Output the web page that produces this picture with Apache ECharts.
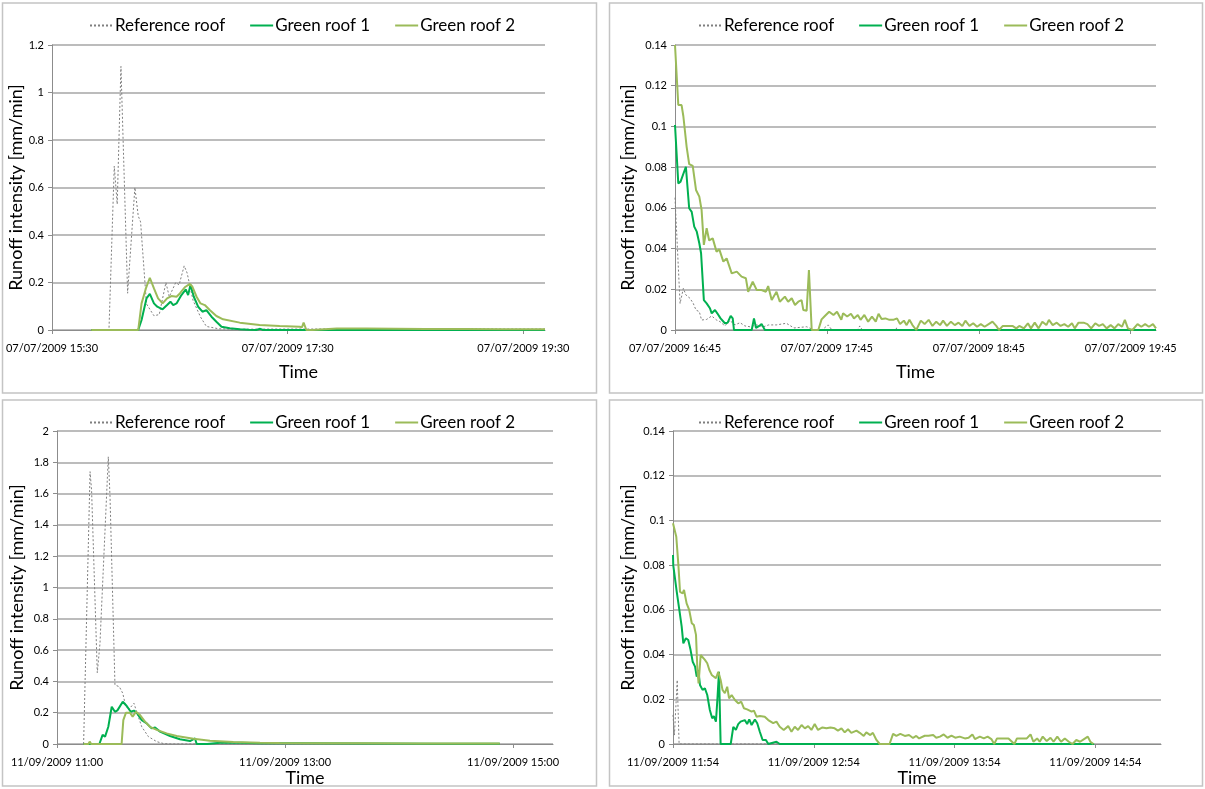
<!DOCTYPE html>
<html><head><meta charset="utf-8">
<script src="https://cdn.jsdelivr.net/npm/echarts@6/dist/echarts.min.js"></script>
<style>html,body{margin:0;padding:0;background:#fff}#c{width:1205px;height:789px}</style>
</head><body><div id="c"></div>
<script>
// ---------- DATA (x = minutes after first tick, y = runoff intensity mm/min) ----------
const seriesNames = ['Reference roof', 'Green roof 1', 'Green roof 2'];

// Panel 1: 07/07/2009 (first tick 15:30)
const p1XLabels = ['07/07/2009 15:30', '07/07/2009 17:30', '07/07/2009 19:30'];
const p1Ref = [[20,0],[29,0],[31.7,0.69],[33.2,0.53],[35.1,1.11],[38.5,0.155],[42.2,0.6],[43.9,0.48],[45.1,0.455],[48.1,0.11],[51.9,0.06],[54.6,0.065],[58,0.2],[59.7,0.14],[63,0.2],[64.7,0.19],[67.3,0.27],[68.8,0.24],[71.8,0.125],[75.6,0.055],[78.6,0.015],[85,0.005],[95,0.003],[110,0.004],[130,0.004],[150,0.005],[170,0.005],[190,0.004],[210,0.005],[230,0.004],[251,0.004]];
const p1G1 = [[20,0],[43.9,0],[45.6,0.042],[46.5,0.04],[48.1,0.133],[49.8,0.152],[51.9,0.112],[53.6,0.098],[56.3,0.087],[58.6,0.105],[60.3,0.119],[61.7,0.105],[63.4,0.112],[65.9,0.147],[68.1,0.171],[69.3,0.147],[70.5,0.19],[72.2,0.14],[74.4,0.098],[76.6,0.077],[78.6,0.084],[81.2,0.056],[83.7,0.035],[86.3,0.014],[90.5,0.007],[95.6,0.003],[100,0.001],[104,0],[106,0.005],[107.5,0],[251,0]];
const p1G2 = [[20,0],[43.9,0],[45.6,0.112],[47.8,0.175],[49.8,0.22],[51.9,0.175],[54,0.133],[56.3,0.112],[58.6,0.133],[60.8,0.143],[63.4,0.14],[65.1,0.154],[67.6,0.18],[70.2,0.194],[71.5,0.182],[73.6,0.14],[75.6,0.112],[77.8,0.105],[80.3,0.084],[83.7,0.059],[87.1,0.045],[95.6,0.031],[105.7,0.021],[115.9,0.017],[126.1,0.014],[127.3,0.012],[128.1,0.031],[129.5,0],[132.5,0],[133.5,0.007],[145,0.006],[160,0.006],[175,0.005],[190,0.004],[210,0.004],[230,0.003],[251,0.003]];

// Panel 2: 07/07/2009 (first tick 16:45)
const p2XLabels = ['07/07/2009 16:45', '07/07/2009 17:45', '07/07/2009 18:45', '07/07/2009 19:45'];
const p2Ref = [[0,0.065],[2,0.013],[3.3,0.0205],[4.3,0.0172],[5.9,0.0156],[7.2,0.0131],[8.3,0.0098],[9.6,0.009],[10.5,0.0049],[12.5,0.0052],[14.5,0.0069],[16.4,0.0049],[17.8,0.0041],[19.7,0.002],[21.7,0.0046],[23.7,0.0025],[25.7,0.0036],[27.6,0.002],[29.6,0.0016],[32.3,0.0025],[35,0.0016],[37,0.0025],[40,0.0025],[44,0.0033],[47,0.001],[52,0.0016],[55,0],[58,0],[60.5,0.0025],[62,0],[72,0],[73,0.002],[74,0],[87,0],[87.6,0.001],[88.5,0],[190,0]];
const p2G1 = [[0,0.1007],[1.3,0.072],[2.2,0.0729],[4.3,0.0802],[5.6,0.0598],[6.6,0.058],[7.6,0.0508],[8.6,0.0483],[9.6,0.0426],[10.3,0.0377],[11.4,0.0147],[12.5,0.0131],[13.8,0.0107],[14.5,0.0082],[15.8,0.0098],[16.7,0.0082],[18,0.0057],[19.7,0.0033],[20.8,0.0036],[22,0.0069],[22.8,0.0057],[23.3,0],[30.3,0],[31.2,0.0057],[32,0.001],[33.3,0.002],[34.2,0.003],[35.5,0],[190,0]];
const p2G2 = [[0,0.14],[1.3,0.1105],[2.6,0.1105],[3.3,0.105],[4.6,0.09],[5.6,0.0815],[7,0.0806],[8.3,0.0688],[9.6,0.0655],[10.5,0.059],[11.4,0.0418],[12.5,0.05],[13.5,0.044],[14.9,0.045],[16.4,0.0385],[17.5,0.0396],[19.1,0.0336],[20.4,0.0352],[22.4,0.0278],[24.4,0.0287],[26.3,0.0262],[28,0.0254],[28.9,0.0188],[30.7,0.0237],[32.3,0.0196],[34.2,0.0196],[35.9,0.0188],[36.8,0.0216],[38.2,0.0147],[40.1,0.0188],[41.4,0.0139],[43.4,0.0164],[44.7,0.0139],[46.1,0.0156],[47.4,0.0123],[48.7,0.0139],[50,0.0147],[50.7,0.0098],[52,0.0095],[52.9,0.0295],[54,0],[56.6,0],[57.9,0.0052],[59.2,0.0069],[60.9,0.009],[62.6,0.0074],[64,0.009],[65.7,0.005],[66.4,0.0082],[68,0.0066],[69.5,0.008],[70.7,0.0057],[72.2,0.0074],[73.3,0.005],[74.8,0.0074],[76.3,0.0041],[77.8,0.0066],[79.3,0.0041],[80.4,0.008],[81.6,0.0054],[83.1,0.0057],[84.7,0.005],[86.2,0.005],[87.7,0.0057],[88.9,0.0029],[90.4,0.0046],[91.5,0.0024],[92.6,0.005],[93.8,0.0024],[95.3,0],[97.1,0.0046],[98.6,0.0029],[100.2,0.005],[101.7,0.002],[103.2,0.0041],[104.7,0.0024],[105.9,0.0046],[107.4,0.002],[109,0.0041],[110.5,0.0024],[112,0.0036],[113.5,0.002],[114.7,0.0046],[116.3,0.002],[117.8,0.0033],[119.3,0.0016],[120.8,0.0029],[122.3,0.0016],[123.9,0.0029],[125.4,0.0041],[126.9,0.002],[128,0],[129.5,0.002],[133.3,0.002],[134.8,0.0008],[136,0.002],[137.8,0.0008],[139.4,0.0033],[140.6,0.0008],[142.1,0.0036],[143.6,0.0008],[145.1,0.0041],[146.7,0.0024],[147.7,0.005],[149.2,0.0024],[150.8,0.0036],[152.3,0.002],[153.8,0.0029],[155.3,0.0016],[156.8,0.0033],[157.9,0.0008],[159.4,0.0036],[161.4,0.0036],[162.9,0.0029],[164.4,0.0008],[166,0.0033],[167.5,0.002],[169,0.0029],[170.5,0.0008],[172.1,0.0024],[173.6,0.0008],[175.1,0.0029],[176.6,0.0016],[177.7,0.005],[178.9,0.0008],[180.7,0],[182.7,0.0029],[184.2,0.0016],[185.7,0.0029],[187.2,0.0016],[188.8,0.0029],[190,0.0008]];

// Panel 3: 11/09/2009 (first tick 11:00)
const p3XLabels = ['11/09/2009 11:00', '11/09/2009 13:00', '11/09/2009 15:00'];
const p3Ref = [[14,0],[14.2,0],[17.4,1.74],[18.2,1.62],[21.2,0.455],[22.6,0.64],[27,1.835],[27.9,1.58],[30.5,0.377],[32.8,0.366],[34.6,0.324],[35.8,0.26],[37.5,0.217],[40.5,0.26],[41.9,0.206],[44.6,0.11],[48.1,0.047],[52.5,0.015],[56,0.003],[60,0],[233,0]];
const p3G1 = [[14,0],[22.3,0],[24,0.058],[25.3,0.047],[27,0.11],[28.8,0.238],[30.5,0.206],[31.8,0.215],[34.6,0.27],[36.7,0.243],[38.8,0.206],[40.5,0.213],[41.9,0.2],[44.6,0.153],[47.2,0.132],[49.8,0.1],[51.6,0.105],[54.2,0.079],[59.5,0.051],[64.7,0.03],[70,0.019],[72.6,0.036],[73.5,0],[79,0],[85.8,0.008],[96,0.008],[107,0.005],[130,0.004],[160,0.003],[200,0.002],[233,0.002]];
const p3G2 = [[14,0],[16.5,0],[17.2,0.015],[18,0],[24,0],[25,0.01],[26,0],[29,0],[30,0.008],[31,0],[34,0],[34.9,0.153],[36.3,0.2],[38.4,0.2],[39.8,0.175],[41.6,0.206],[43.7,0.185],[46.3,0.143],[48.9,0.11],[52.5,0.09],[57.7,0.068],[63,0.051],[71.8,0.034],[80.5,0.021],[92.8,0.013],[106.8,0.008],[117,0.006],[140,0.005],[160,0.004],[190,0.003],[233,0.003]];

// Panel 4: 11/09/2009 (first tick 11:54)
const p4XLabels = ['11/09/2009 11:54', '11/09/2009 12:54', '11/09/2009 13:54', '11/09/2009 14:54'];
const p4Ref = [[0,0.013],[0.6,0.004],[1.8,0.0286],[2.6,0],[179.5,0]];
const p4G1 = [[0,0.0845],[0.1,0.08],[1.6,0.068],[2.7,0.06],[3.7,0.0525],[4.4,0.045],[5.5,0.0473],[6.5,0.0465],[7.5,0.042],[8.4,0.0368],[9.4,0.0346],[10.1,0.0301],[10.8,0.0331],[11.5,0.0264],[12.6,0.0242],[13.6,0.0249],[14.6,0.0219],[15.7,0.0152],[16.7,0.0115],[17.4,0.0125],[18.3,0.01],[18.9,0.0197],[19.6,0.0323],[20.3,0],[24.6,0],[25.7,0.0077],[26.8,0.0063],[27.8,0.0089],[28.8,0.01],[29.5,0.0093],[30.6,0.0107],[31.6,0.0089],[32.5,0.011],[33.5,0.0085],[34.9,0.011],[35.9,0.0093],[37,0.0055],[38.2,0.0018],[39.6,0.0018],[40.6,0],[44.1,0.001],[45.5,0],[179.5,0]];
const p4G2 = [[0,0.0987],[1.4,0.0927],[2.3,0.08],[3,0.068],[4.1,0.0674],[4.7,0.0689],[5.8,0.0629],[6.9,0.06],[8,0.054],[8.9,0.0532],[9.8,0.0488],[10.4,0.0331],[10.9,0.0271],[11.8,0.0398],[12.6,0.0403],[13.6,0.0376],[14.6,0.0361],[15.5,0.0331],[16.5,0.0309],[17.2,0.0312],[18.3,0.0294],[19.3,0.0323],[20.3,0.0286],[21.1,0.0242],[22.1,0.0227],[23.1,0.0256],[23.9,0.0204],[25,0.0219],[26.4,0.0197],[27.8,0.0182],[29.1,0.0189],[30.2,0.016],[31.6,0.0155],[33.5,0.0145],[34.5,0.0149],[35.6,0.0122],[37,0.0125],[39.1,0.0122],[40.6,0.0107],[42.7,0.0093],[44.1,0.01],[45.5,0.0077],[47.2,0.0063],[49.1,0.008],[50.5,0.0055],[51.9,0.0077],[53.3,0.0063],[54.8,0.0085],[56.2,0.007],[57.6,0.008],[59,0.0063],[60.4,0.0089],[61.8,0.0063],[63.7,0.0074],[65.4,0.007],[67.1,0.0074],[68.9,0.007],[70.3,0.006],[71.8,0.007],[73.2,0.0052],[74.6,0.0066],[76,0.005],[78.2,0.006],[79.6,0.005],[81.3,0.0036],[82.4,0.0052],[84.1,0.004],[85.2,0.005],[86.7,0.0018],[88.1,0],[92.3,0],[93.8,0.0045],[95.2,0.0036],[96.9,0.0045],[98.8,0.0036],[100.6,0.004],[102.3,0.0027],[103.7,0.0036],[104.9,0.0025],[107.3,0.0037],[108.9,0.0037],[110.9,0.004],[112.2,0.0028],[113.8,0.0033],[115.4,0.0043],[117,0.0028],[118.7,0.0037],[120.3,0.0028],[122.2,0.0033],[124.4,0.0025],[126,0.0028],[127.6,0.0043],[128.7,0.0022],[130.8,0.0033],[132.5,0.0025],[134.1,0.0033],[135.7,0.0022],[136.9,0],[138.1,0.0025],[143,0.0025],[145.5,0],[146.6,0.0025],[150.8,0.0025],[152.4,0.0043],[153.6,0.001],[155.2,0.0025],[156.3,0.001],[157.6,0.0033],[159.3,0.0013],[160.9,0.0028],[162.2,0.001],[163.8,0.0033],[165.4,0.001],[167,0.0025],[168.7,0.001],[170.3,0],[171.9,0.0018],[173.5,0.001],[175.2,0.0022],[176.8,0.0033],[177.9,0.001],[179.2,0]];

// ---------- LAYOUT / STYLE ----------
const FONT = 'Lato, "Open Sans", sans-serif';
const COLORS = ['#7f7f7f', '#00B050', '#9BBB59'];
const panels = [
  {grid:{left:52, top:45, width:493, height:285}, xMax:251, xInt:120, xLabels:p1XLabels, yMax:1.2, yInt:0.2, yGap:27, tGap:33, leg:{left:84, top:12}, data:[p1Ref,p1G1,p1G2], box:[2.5,3,594,390]},
  {grid:{left:675, top:45, width:481, height:285}, xMax:190, xInt:60, xLabels:p2XLabels, yMax:0.14, yInt:0.02, yGap:38, tGap:33, leg:{left:693, top:12}, data:[p2Ref,p2G1,p2G2], box:[609.5,3,593,390]},
  {grid:{left:57, top:431, width:496, height:313}, xMax:261, xInt:120, xLabels:p3XLabels, yMax:2, yInt:0.2, yGap:31, tGap:24, leg:{left:84, top:409}, data:[p3Ref,p3G1,p3G2], box:[2.5,400,594,386]},
  {grid:{left:673, top:431, width:488, height:313}, xMax:208, xInt:60, xLabels:p4XLabels, yMax:0.14, yInt:0.02, yGap:36, tGap:24, leg:{left:693, top:409}, data:[p4Ref,p4G1,p4G2], box:[609.5,400,593,386]}
];

const grid = [], xAxis = [], yAxis = [], series = [], legend = [], graphic = [];
panels.forEach((p, i) => {
  grid.push(Object.assign({containLabel:false, outerBoundsMode:'none'}, p.grid));
  xAxis.push({
    type:'value', gridIndex:i, min:0, max:p.xMax, interval:p.xInt,
    name:'Time', nameLocation:'middle', nameGap:p.tGap,
    nameTextStyle:{fontFamily:FONT, fontSize:18, color:'#000'},
    axisLine:{show:true, lineStyle:{color:'#8c8c8c', width:1}},
    axisTick:{show:true, inside:false, length:4, lineStyle:{color:'#8c8c8c'}},
    splitLine:{show:false},
    axisLabel:{show:true, showMaxLabel:false, margin:13, fontFamily:FONT, fontSize:11, color:'#000',
      formatter:(v) => { const k = Math.round(v / p.xInt); return p.xLabels[k] || ''; }}
  });
  yAxis.push({
    type:'value', gridIndex:i, min:0, max:p.yMax, interval:p.yInt,
    name:'Runoff intensity [mm/min]', nameLocation:'middle', nameGap:p.yGap, nameRotate:90,
    nameTextStyle:{fontFamily:FONT, fontSize:18, color:'#000'},
    axisLine:{show:true, lineStyle:{color:'#8c8c8c', width:1}},
    axisTick:{show:true, inside:false, length:4, lineStyle:{color:'#8c8c8c'}},
    splitLine:{show:true, lineStyle:{color:'#a6a6a6', width:1.5}},
    axisLabel:{margin:8, fontFamily:FONT, fontSize:11, color:'#000'}
  });
  p.data.forEach((d, j) => {
    series.push({
      name:seriesNames[j], type:'line', xAxisIndex:i, yAxisIndex:i,
      data:d, symbol:'none', showSymbol:false, animation:false,
      lineStyle: j === 0 ? {color:COLORS[0], width:1, type:[2,2]} : {color:COLORS[j], width:2},
      itemStyle:{color:COLORS[j]}, z: 2 + j
    });
  });
  legend.push({
    data:seriesNames, left:p.leg.left, top:p.leg.top, orient:'horizontal',
    itemWidth:23, itemHeight:12, itemGap:24, selectedMode:false,
    itemStyle:{opacity:0},
    textStyle:{fontFamily:FONT, fontSize:17, color:'#000', padding:[0,0,0,-3]}
  });
  graphic.push({type:'rect', silent:true, z:-10,
    shape:{x:p.box[0], y:p.box[1], width:p.box[2], height:p.box[3]},
    style:{fill:'#fff', stroke:'#c4c4c4', lineWidth:1.5}});
});

const chart = echarts.init(document.getElementById('c'), null, {renderer:'canvas'});
chart.setOption({
  backgroundColor:'#fff', animation:false,
  grid, xAxis, yAxis, series, legend, graphic
});
</script>
</body></html>
